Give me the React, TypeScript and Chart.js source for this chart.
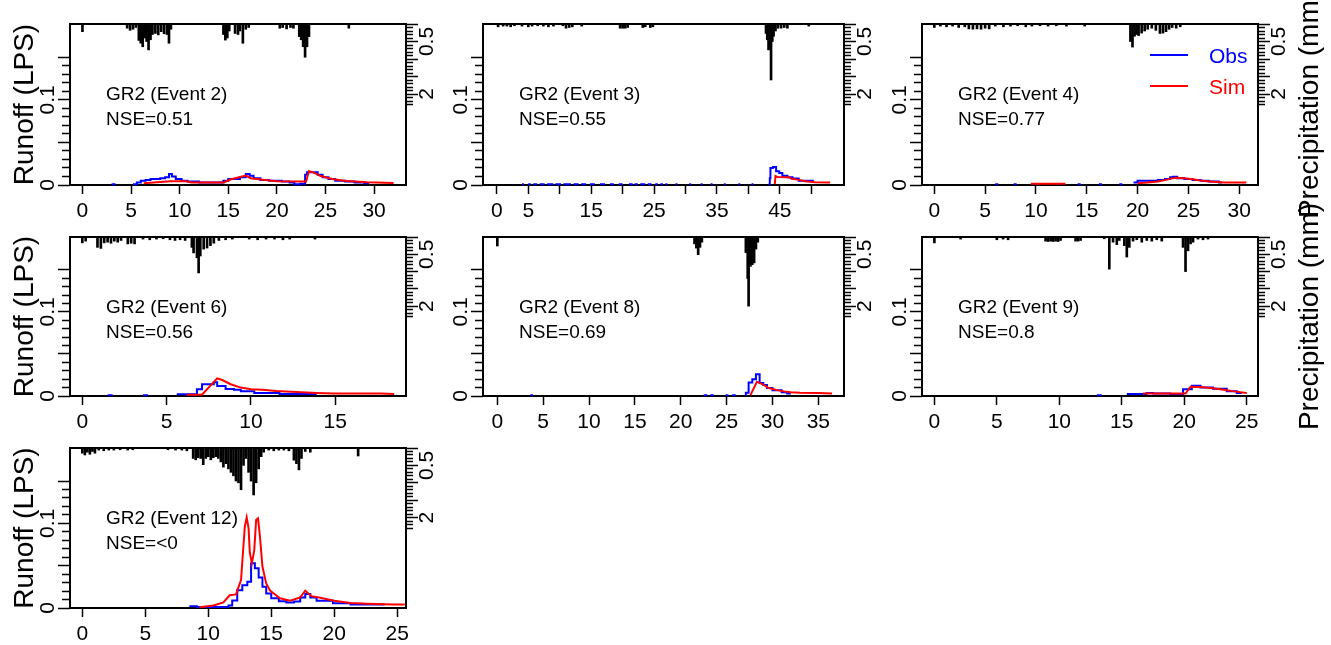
import React, { useEffect, useRef } from 'react';
import { Chart, registerables } from 'chart.js';

Chart.register(...registerables);

const FONT = '"Liberation Sans", Arial, Helvetica, sans-serif';

type Pair = [number, number | null];
type Span = [number, number];

// Level used to draw short observed-runoff traces that sit on the zero line
const OBS_TRACE = 0.0008;

// ---------- Event 2 ----------
const rain2: Pair[] = [
  [0, 0.22], [4.6, 0.12], [4.9, 0.18], [5.2, 0.15], [5.5, 0.1],
  [5.8, 0.47], [6.0, 0.55], [6.2, 0.65], [6.4, 0.4], [6.6, 0.5], [6.8, 0.74], [7.0, 0.45],
  [7.2, 0.3], [7.5, 0.27], [7.8, 0.31], [8.1, 0.22], [8.4, 0.28], [8.7, 0.3], [8.9, 0.55], [9.1, 0.15],
  [14.5, 0.3], [14.7, 0.46], [14.9, 0.4], [15.1, 0.2], [15.7, 0.27], [16.0, 0.3], [16.2, 0.2],
  [16.5, 0.55], [16.8, 0.15], [17.1, 0.1],
  [20.3, 0.12], [20.6, 0.1], [21.0, 0.14], [21.4, 0.1], [21.7, 0.12],
  [22.3, 0.36], [22.5, 0.45], [22.7, 0.65], [22.9, 0.95], [23.1, 0.65], [23.3, 0.36],
  [27.4, 0.12],
];
const obsTrace2: Span[] = [[3.0, 3.4]];
const obs2: Pair[] = [
  [5.2, 0.001], [5.6, 0.003], [6.0, 0.005], [6.5, 0.006], [7.0, 0.007], [7.6, 0.007], [8.0, 0.008],
  [8.5, 0.009], [8.9, 0.013], [9.2, 0.01], [9.6, 0.007], [10.2, 0.005], [10.8, 0.004], [12.0, 0.003],
  [13.5, 0.003], [14.5, 0.005], [15.0, 0.007], [15.6, 0.007], [16.2, 0.009], [16.8, 0.013],
  [17.2, 0.011], [17.6, 0.008], [18.3, 0.006], [19.2, 0.005], [20.5, 0.004], [21.3, 0.003],
  [21.8, 0.001], [22.4, 0.0015], [22.9, 0.012], [23.1, 0.015], [23.8, 0.015], [24.2, 0.012],
  [24.7, 0.009], [25.3, 0.007], [26.0, 0.005], [27.0, 0.004], [28.0, 0.003], [29.0, 0.002], [29.5, 0.002],
];
const sim2: Pair[] = [
  [6.3, 0.002], [9.0, 0.0045], [10.7, 0.0045], [11.2, 0.003], [14.5, 0.003], [15.3, 0.0068],
  [16.8, 0.011], [17.3, 0.008], [19.0, 0.0055], [20.0, 0.0045], [23.0, 0.004], [23.3, 0.0165],
  [23.8, 0.0145], [24.5, 0.0106], [25.8, 0.0067], [27.2, 0.0047], [29.3, 0.0032], [32.0, 0.0024],
];
const xTicks2 = [0, 5, 10, 15, 20, 25, 30];
const xRange2: Span = [-1.28, 33.28];

// ---------- Event 3 ----------
const rain3: Pair[] = [
  [0.2, 0.08], [1.0, 0.06], [1.6, 0.06], [2.2, 0.08], [2.8, 0.05], [4.0, 0.06], [5.0, 0.08],
  [5.6, 0.06], [6.5, 0.05], [7.4, 0.06], [8.2, 0.08], [9.0, 0.06], [10.5, 0.05], [11.0, 0.12],
  [11.5, 0.1], [12.0, 0.08], [13.5, 0.06], [19.6, 0.12], [20.0, 0.12], [20.4, 0.12], [20.8, 0.1],
  [23.2, 0.1], [23.6, 0.08], [24.4, 0.1], [24.8, 0.08],
  [42.8, 0.27], [43.0, 0.45], [43.2, 0.74], [43.4, 0.7], [43.6, 1.6], [43.8, 0.5], [44.0, 0.35],
  [44.3, 0.2], [44.7, 0.12], [45.2, 0.12], [45.7, 0.1], [46.2, 0.12], [49.6, 0.06],
];
const obsTrace3: Span[] = [
  [4.0, 4.3], [5.0, 5.4], [5.8, 6.4], [6.8, 7.6], [8.0, 9.0], [9.3, 10.2], [10.6, 11.8], [12.2, 13.0],
  [13.4, 14.2], [14.8, 15.6], [16.4, 17.2], [18.0, 18.6], [19.4, 20.0], [21.0, 21.6], [21.9, 22.4],
  [22.8, 23.6], [24.0, 24.6], [25.2, 25.6], [26.0, 26.4], [26.8, 27.1], [28.4, 28.7], [30.6, 30.9],
  [32.4, 32.7], [34.0, 34.3], [36.1, 36.4], [38.4, 38.7], [40.5, 40.8],
];
const obs3: Pair[] = [
  [43.2, 0.001], [43.4, 0.008], [43.5, 0.02], [43.9, 0.021], [44.4, 0.016], [44.9, 0.014],
  [45.4, 0.011], [46.2, 0.009], [47.0, 0.0075], [48.0, 0.005], [50.4, 0.005],
];
const sim3: Pair[] = [
  [44.2, 0.001], [44.3, 0.0106], [44.6, 0.0095], [46.5, 0.009], [46.8, 0.0075], [48.0, 0.006],
  [49.0, 0.0045], [50.6, 0.0033], [53.0, 0.003],
];
const xTicks3 = [0, 5, 10, 15, 20, 25, 30, 35, 40, 45, 50];
const xLabels3 = [0, 5, 15, 25, 35, 45];
const xRange3: Span = [-2.2, 55.2];

// ---------- Event 4 ----------
const rain4: Pair[] = [
  [0.0, 0.1], [0.6, 0.06], [1.2, 0.08], [1.8, 0.06], [2.4, 0.1], [3.0, 0.08], [3.4, 0.14], [3.8, 0.15],
  [4.2, 0.14], [4.6, 0.15], [5.0, 0.12], [5.4, 0.14], [6.0, 0.06], [6.8, 0.08], [7.5, 0.06],
  [8.2, 0.05], [9.0, 0.08], [9.6, 0.06], [10.4, 0.05], [11.2, 0.06], [12.0, 0.05], [13.0, 0.06],
  [14.8, 0.06], [19.3, 0.5], [19.5, 0.66], [19.7, 0.35], [19.9, 0.3], [20.1, 0.33], [20.4, 0.26],
  [20.7, 0.2], [21.0, 0.15], [21.4, 0.12], [21.8, 0.18], [22.2, 0.27], [22.5, 0.26], [22.8, 0.22],
  [23.1, 0.15], [23.4, 0.1], [23.8, 0.12], [24.2, 0.08],
];
const obsTrace4: Span[] = [[6.0, 6.3], [7.8, 8.1], [14.1, 14.4], [16.2, 16.5], [18.2, 18.5]];
const obs4: Pair[] = [
  [19.6, 0.003], [20.0, 0.005], [21.0, 0.005], [22.0, 0.006], [22.7, 0.007], [23.2, 0.009],
  [23.5, 0.0098], [23.9, 0.008], [24.6, 0.007], [25.4, 0.006], [26.2, 0.005], [27.0, 0.004],
  [28.0, 0.003], [28.3, 0.003],
];
const sim4: Pair[] = [
  [9.5, 0.0015], [12.9, 0.0015], [12.9, null],
  [20.0, 0.002], [21.0, 0.003], [22.0, 0.004], [22.8, 0.006], [23.4, 0.0078], [23.8, 0.0086],
  [24.5, 0.0078], [25.3, 0.007], [26.0, 0.0055], [26.8, 0.0045], [27.5, 0.0038], [28.5, 0.003],
  [30.7, 0.003],
];
const xTicks4 = [0, 5, 10, 15, 20, 25, 30];
const xRange4: Span = [-1.21, 31.85];

// ---------- Event 6 ----------
const rain6: Pair[] = [
  [0.0, 0.17], [0.2, 0.12], [0.9, 0.3], [1.1, 0.33], [1.3, 0.17], [1.5, 0.15], [1.7, 0.18],
  [1.9, 0.12], [2.1, 0.15], [2.3, 0.1], [2.7, 0.2], [2.9, 0.18], [3.1, 0.2], [3.6, 0.06], [4.0, 0.08],
  [4.4, 0.06], [4.8, 0.05], [5.2, 0.08], [5.5, 0.1], [5.8, 0.08], [6.1, 0.1], [6.5, 0.3],
  [6.6, 0.46], [6.8, 0.6], [6.9, 1.04], [7.0, 0.55], [7.2, 0.35], [7.4, 0.32], [7.6, 0.25],
  [7.8, 0.18], [8.1, 0.1], [8.5, 0.08], [8.9, 0.06], [9.9, 0.06], [10.4, 0.08], [10.9, 0.06],
  [11.4, 0.06], [11.9, 0.08], [12.3, 0.06], [13.8, 0.06],
];
const obsTrace6: Span[] = [[1.5, 1.8], [3.6, 3.9]];
const obs6: Pair[] = [
  [5.6, 0.002], [6.8, 0.008], [7.1, 0.014], [7.8, 0.0163], [8.0, 0.012], [8.5, 0.0083],
  [9.0, 0.0075], [9.4, 0.0056], [10.2, 0.0036], [11.7, 0.0024], [13.9, 0.0024],
];
const sim6: Pair[] = [
  [6.2, 0.0015], [7.1, 0.0015], [8.0, 0.021], [8.3, 0.019], [8.8, 0.014], [9.4, 0.01],
  [10.0, 0.008], [10.7, 0.0075], [11.5, 0.006], [12.7, 0.0048], [13.9, 0.0036], [14.9, 0.003],
  [17.7, 0.003], [18.5, 0.0025],
];
const xTicks6 = [0, 5, 10, 15];
const xRange6: Span = [-0.73, 19.2];

// ---------- Event 8 ----------
const rain8: Pair[] = [
  [0.0, 0.26], [21.5, 0.2], [21.7, 0.32], [21.9, 0.51], [22.1, 0.3], [22.3, 0.15],
  [27.1, 0.45], [27.3, 1.2], [27.4, 2.0], [27.6, 0.85], [27.8, 0.8], [28.0, 0.75], [28.2, 0.35],
  [28.4, 0.15],
];
const obsTrace8: Span[] = [[3.6, 3.9], [22.5, 22.9], [23.2, 23.6], [24.9, 25.2], [25.6, 26.0]];
const obs8: Pair[] = [
  [27.0, 0.0012], [27.1, 0.004], [27.4, 0.016], [27.8, 0.02], [28.2, 0.026], [28.6, 0.0155],
  [29.0, 0.013], [29.4, 0.0095], [30.0, 0.0067], [31.0, 0.0044], [31.6, 0.003], [32.0, 0.003],
];
const sim8: Pair[] = [
  [27.6, 0.001], [28.3, 0.017], [29.0, 0.0135], [29.6, 0.0095], [30.5, 0.007], [31.3, 0.0055],
  [32.0, 0.0045], [33.0, 0.0038], [35.0, 0.0035], [36.5, 0.003],
];
const xTicks8 = [0, 5, 10, 15, 20, 25, 30, 35];
const xRange8: Span = [-1.56, 37.8];

// ---------- Event 9 ----------
const rain9: Pair[] = [
  [0.0, 0.17], [2.1, 0.06], [5.0, 0.08], [5.5, 0.06], [5.9, 0.08], [8.9, 0.12], [9.1, 0.13],
  [9.3, 0.12], [9.5, 0.13], [9.7, 0.12], [9.9, 0.13], [10.1, 0.1], [11.3, 0.12], [11.5, 0.12],
  [11.7, 0.1], [13.6, 0.05], [14.0, 0.93], [14.3, 0.15], [14.6, 0.22], [14.8, 0.1], [15.2, 0.25],
  [15.4, 0.58], [15.6, 0.3], [15.9, 0.12], [16.2, 0.08], [16.6, 0.15], [17.0, 0.1], [17.4, 0.12],
  [17.8, 0.08], [18.2, 0.12], [19.9, 0.3], [20.1, 1.0], [20.3, 0.4], [20.5, 0.2], [20.7, 0.15],
  [21.1, 0.06], [21.5, 0.08], [21.9, 0.06],
];
const obsTrace9: Span[] = [[13.0, 13.4]];
const obs9: Pair[] = [
  [15.4, 0.0024], [17.0, 0.0036], [17.5, 0.003], [18.9, 0.0025], [19.9, 0.008], [20.6, 0.0122],
  [21.3, 0.01], [22.3, 0.0085], [23.4, 0.0056], [24.2, 0.0036], [24.6, 0.0036],
];
const sim9: Pair[] = [
  [16.7, 0.003], [20.1, 0.003], [20.5, 0.011], [21.5, 0.0103], [22.3, 0.0091], [23.3, 0.0071],
  [24.0, 0.0055], [24.8, 0.004], [25.0, 0.0035],
];
const xTicks9 = [0, 5, 10, 15, 20, 25];
const xRange9: Span = [-0.99, 25.9];

// ---------- Event 12 ----------
const rain12: Pair[] = [
  [0.0, 0.15], [0.2, 0.2], [0.4, 0.12], [0.6, 0.18], [0.8, 0.1], [1.0, 0.15], [1.3, 0.06],
  [1.7, 0.08], [2.1, 0.06], [2.5, 0.06], [3.0, 0.05], [3.6, 0.06], [4.0, 0.05], [6.8, 0.05],
  [7.4, 0.06], [7.9, 0.06], [8.3, 0.08], [8.8, 0.3], [9.0, 0.34], [9.2, 0.28], [9.4, 0.3],
  [9.6, 0.48], [9.8, 0.3], [10.0, 0.25], [10.2, 0.34], [10.4, 0.28], [10.6, 0.25], [10.8, 0.3],
  [11.0, 0.4], [11.2, 0.55], [11.4, 0.45], [11.6, 0.6], [11.8, 0.7], [12.0, 0.8], [12.2, 0.95],
  [12.4, 1.0], [12.6, 1.2], [12.8, 0.5], [13.0, 0.3], [13.2, 0.7], [13.4, 0.95], [13.6, 1.35],
  [13.8, 1.0], [14.0, 0.6], [14.2, 0.25], [14.4, 0.12], [14.8, 0.06], [15.2, 0.08], [15.6, 0.06],
  [16.0, 0.06], [16.4, 0.08], [16.8, 0.35], [17.0, 0.45], [17.2, 0.63], [17.4, 0.3], [17.7, 0.1],
  [18.1, 0.12], [21.9, 0.23],
];
const obsTrace12: Span[] = [];
const obs12: Pair[] = [
  [8.5, 0.002], [9.1, 0.0012], [11.6, 0.003], [11.9, 0.009], [12.3, 0.021], [12.7, 0.027],
  [13.1, 0.031], [13.4, 0.053], [13.7, 0.047], [14.0, 0.036], [14.3, 0.025], [14.6, 0.017],
  [15.0, 0.0115], [15.6, 0.008], [16.2, 0.0065], [16.8, 0.0078], [17.3, 0.0125], [17.7, 0.0165],
  [18.1, 0.0125], [18.6, 0.0086], [19.9, 0.0055], [21.3, 0.004], [24.0, 0.004],
];
const sim12: Pair[] = [
  [9.3, 0.001], [10.4, 0.003], [11.2, 0.0065], [11.7, 0.015], [12.2, 0.016], [12.6, 0.033],
  [12.9, 0.096], [13.05, 0.107], [13.2, 0.094], [13.3, 0.065], [13.46, 0.053], [13.65, 0.068],
  [13.8, 0.104], [13.95, 0.106], [14.1, 0.085], [14.3, 0.049], [14.6, 0.029], [14.9, 0.0207],
  [15.7, 0.0115], [16.5, 0.0085], [17.3, 0.0125], [17.7, 0.0205], [18.2, 0.014], [18.9, 0.012],
  [20.0, 0.0085], [21.3, 0.006], [22.6, 0.005], [24.7, 0.004], [25.6, 0.004],
];
const xTicks12 = [0, 5, 10, 15, 20, 25];
const xRange12: Span = [-0.98, 25.7];

// ---------- shared axes ----------
const runoffRange: Span = [0, 0.189];
const runoffTicks = [0, 0.01, 0.02, 0.03, 0.04, 0.05, 0.06, 0.07, 0.08, 0.09, 0.1, 0.11, 0.12, 0.13, 0.14, 0.15];
const runoffMajorTicks = [0, 0.05, 0.1, 0.15];
const runoffTickLabels = [0, 0.1];

const precipRange: Span = [0, 4.6];
const precipTicks = [0, 0.1, 0.2, 0.3, 0.4, 0.5, 0.6, 0.7, 0.8, 0.9, 1, 1.1, 1.2, 1.3, 1.4, 1.5, 1.6, 1.7, 1.8, 1.9, 2, 2.1, 2.2, 2.3];
const precipMajorTicks = [0, 0.5, 1, 1.5, 2];
const precipTickLabels = [0.5, 2];

const modelName = 'GR2';
const seriesNames = ['Obs', 'Sim'];

interface EventData {
  id: number;
  nse: string;
  rain: Pair[];
  obs: Pair[];
  obsTrace: Span[];
  sim: Pair[];
  xRange: Span;
  xTicks: number[];
  xLabels: number[];
}

const events: EventData[] = [
  { id: 2, nse: '0.51', rain: rain2, obs: obs2, obsTrace: obsTrace2, sim: sim2, xRange: xRange2, xTicks: xTicks2, xLabels: xTicks2 },
  { id: 3, nse: '0.55', rain: rain3, obs: obs3, obsTrace: obsTrace3, sim: sim3, xRange: xRange3, xTicks: xTicks3, xLabels: xLabels3 },
  { id: 4, nse: '0.77', rain: rain4, obs: obs4, obsTrace: obsTrace4, sim: sim4, xRange: xRange4, xTicks: xTicks4, xLabels: xTicks4 },
  { id: 6, nse: '0.56', rain: rain6, obs: obs6, obsTrace: obsTrace6, sim: sim6, xRange: xRange6, xTicks: xTicks6, xLabels: xTicks6 },
  { id: 8, nse: '0.69', rain: rain8, obs: obs8, obsTrace: obsTrace8, sim: sim8, xRange: xRange8, xTicks: xTicks8, xLabels: xTicks8 },
  { id: 9, nse: '0.8', rain: rain9, obs: obs9, obsTrace: obsTrace9, sim: sim9, xRange: xRange9, xTicks: xTicks9, xLabels: xTicks9 },
  { id: 12, nse: '<0', rain: rain12, obs: obs12, obsTrace: obsTrace12, sim: sim12, xRange: xRange12, xTicks: xTicks12, xLabels: xTicks12 },
];

// ---------- page layout (plot boxes in page pixels) ----------
interface Box { left: number; top: number; right: number; bottom: number; }
const panelBoxes: Box[] = [
  { left: 70, top: 24, right: 406, bottom: 185 },
  { left: 483, top: 24, right: 844, bottom: 185 },
  { left: 922, top: 24, right: 1258, bottom: 185 },
  { left: 70, top: 237, right: 406, bottom: 396 },
  { left: 483, top: 237, right: 844, bottom: 396 },
  { left: 922, top: 237, right: 1258, bottom: 396 },
  { left: 70, top: 448, right: 406, bottom: 608 },
];
const M_LEFT = 70;
const M_RIGHT = 90;
const M_TOP = 44;
const M_BOTTOM = 48;

const BLUE = '#0000ff';
const RED = '#ff0000';

const near = (list: number[], v: number) => list.some((t) => Math.abs(t - v) < 1e-9);
const toXY = (p: Pair[]) => p.map(([x, y]) => ({ x, y }));

interface PanelFlags { runoffTitle: boolean; precipTitle: boolean; legend: boolean; }

function makeChart(canvas: HTMLCanvasElement, ev: EventData, flags: PanelFlags) {
  const obsPoints: { x: number; y: number | null }[] = [];
  ev.obsTrace.forEach(([a, b]) => {
    obsPoints.push({ x: a, y: OBS_TRACE }, { x: b, y: OBS_TRACE }, { x: b, y: null });
  });
  ev.obs.forEach(([x, y]) => obsPoints.push({ x, y }));

  const decor = {
    id: 'panelDecor',
    beforeDatasetsDraw(chart: any) {
      const { ctx, chartArea: a } = chart;
      ctx.save();
      ctx.strokeStyle = '#000';
      ctx.lineWidth = 2;
      ctx.strokeRect(a.left, a.top, a.right - a.left, a.bottom - a.top);
      ctx.restore();
    },
    afterDraw(chart: any) {
      const { ctx, chartArea: a } = chart;
      ctx.save();
      ctx.fillStyle = '#000';
      ctx.textAlign = 'left';
      ctx.textBaseline = 'middle';
      ctx.font = `19px ${FONT}`;
      ctx.fillText(`${modelName} (Event ${ev.id})`, a.left + 36, a.top + 71);
      ctx.fillText(`NSE=${ev.nse}`, a.left + 36, a.top + 96);

      if (flags.legend) {
        const colors = [BLUE, RED];
        seriesNames.forEach((name, i) => {
          const ly = a.top + 31 + i * 31;
          ctx.strokeStyle = colors[i];
          ctx.lineWidth = 2;
          ctx.beginPath();
          ctx.moveTo(a.left + 228, ly);
          ctx.lineTo(a.left + 266, ly);
          ctx.stroke();
          ctx.fillStyle = colors[i];
          ctx.font = `21px ${FONT}`;
          ctx.fillText(name, a.left + 287, ly + 2);
        });
      }

      if (flags.precipTitle) {
        ctx.fillStyle = '#000';
        ctx.font = `28px ${FONT}`;
        ctx.textAlign = 'center';
        ctx.translate(a.right + 52, (a.top + a.bottom) / 2);
        ctx.rotate(-Math.PI / 2);
        ctx.fillText('Precipitation (mm)', 0, 0);
      }
      ctx.restore();
    },
  };

  return new Chart(canvas, {
    type: 'line',
    data: {
      datasets: [
        {
          type: 'line',
          label: 'Sim',
          data: toXY(ev.sim),
          borderColor: RED,
          borderWidth: 2,
          pointRadius: 0,
          tension: 0,
          fill: false,
          spanGaps: false,
          yAxisID: 'y',
          order: 0,
          clip: false,
        },
        {
          type: 'line',
          label: 'Obs',
          data: obsPoints,
          borderColor: BLUE,
          borderWidth: 2,
          pointRadius: 0,
          stepped: 'before',
          fill: false,
          spanGaps: false,
          yAxisID: 'y',
          order: 1,
          clip: false,
        },
        {
          type: 'bar',
          label: 'Precipitation',
          data: toXY(ev.rain),
          backgroundColor: '#000',
          borderWidth: 0,
          barThickness: 2,
          yAxisID: 'y2',
          order: 2,
          clip: false,
        },
      ] as any,
    },
    options: {
      responsive: false,
      animation: false,
      devicePixelRatio: 1,
      events: [],
      layout: { padding: { top: M_TOP, left: 0, right: 0, bottom: 0 }, autoPadding: false },
      plugins: { legend: { display: false }, tooltip: { enabled: false } },
      scales: {
        x: {
          type: 'linear',
          min: ev.xRange[0],
          max: ev.xRange[1],
          bounds: 'data',
          offset: false,
          afterBuildTicks: (s: any) => { s.ticks = ev.xTicks.map((v) => ({ value: v })); },
          afterFit: (s: any) => { s.height = M_BOTTOM; },
          grid: {
            display: true,
            offset: false,
            drawOnChartArea: false,
            drawTicks: true,
            tickLength: 9,
            tickColor: '#000',
            tickWidth: 1.5,
          },
          border: { display: false },
          ticks: {
            autoSkip: false,
            maxRotation: 0,
            minRotation: 0,
            padding: 5,
            color: '#000',
            font: { family: FONT, size: 21 },
            callback: (v: any) => (near(ev.xLabels, Number(v)) ? String(v) : ''),
          },
        },
        y: {
          type: 'linear',
          position: 'left',
          min: runoffRange[0],
          max: runoffRange[1],
          bounds: 'data',
          afterBuildTicks: (s: any) => { s.ticks = runoffTicks.map((v) => ({ value: v })); },
          afterFit: (s: any) => { s.width = M_LEFT; },
          grid: {
            display: true,
            offset: false,
            drawOnChartArea: false,
            drawTicks: true,
            tickLength: 12,
            tickColor: '#000',
            tickWidth: 1.5,
            tickBorderDash: (c: any) => (near(runoffMajorTicks, c.tick ? c.tick.value : 0) ? [] : [0, 4, 8, 100]),
          },
          border: { display: false },
          ticks: {
            autoSkip: false,
            minRotation: 90,
            maxRotation: 90,
            crossAlign: 'center',
            padding: -5,
            color: '#000',
            font: { family: FONT, size: 21 },
            callback: (v: any) => (near(runoffTickLabels, Number(v)) ? String(v) : ''),
          },
          title: {
            display: flags.runoffTitle,
            text: 'Runoff (LPS)',
            color: '#000',
            font: { family: FONT, size: 28 },
            padding: { top: 8, bottom: 0 },
          },
        },
        y2: {
          type: 'linear',
          position: 'right',
          min: precipRange[0],
          max: precipRange[1],
          reverse: true,
          bounds: 'data',
          afterBuildTicks: (s: any) => { s.ticks = precipTicks.map((v) => ({ value: v })); },
          afterFit: (s: any) => { s.width = M_RIGHT; },
          grid: {
            display: true,
            offset: false,
            drawOnChartArea: false,
            drawTicks: true,
            tickLength: 12,
            tickColor: '#000',
            tickWidth: 1.5,
            tickBorderDash: (c: any) => (near(precipMajorTicks, c.tick ? c.tick.value : 0) ? [] : [7, 100]),
          },
          border: { display: false },
          ticks: {
            autoSkip: false,
            minRotation: 90,
            maxRotation: 90,
            crossAlign: 'center',
            padding: -5,
            color: '#000',
            font: { family: FONT, size: 21 },
            callback: (v: any) => (near(precipTickLabels, Number(v)) ? String(v) : ''),
          },
        },
      },
    } as any,
    plugins: [decor],
  });
}

function Panel({ ev, box, flags }: { ev: EventData; box: Box; flags: PanelFlags }) {
  const ref = useRef<HTMLCanvasElement>(null);
  const width = box.right - box.left + M_LEFT + M_RIGHT;
  const height = box.bottom - box.top + M_TOP + M_BOTTOM;

  useEffect(() => {
    if (!ref.current) return;
    const chart = makeChart(ref.current, ev, flags);
    return () => chart.destroy();
  }, [ev, flags]);

  return (
    <canvas
      ref={ref}
      width={width}
      height={height}
      style={{ position: 'absolute', left: box.left - M_LEFT, top: box.top - M_TOP, width, height }}
    />
  );
}

const panelFlags: PanelFlags[] = [
  { runoffTitle: true, precipTitle: false, legend: false },
  { runoffTitle: false, precipTitle: false, legend: false },
  { runoffTitle: false, precipTitle: true, legend: true },
  { runoffTitle: true, precipTitle: false, legend: false },
  { runoffTitle: false, precipTitle: false, legend: false },
  { runoffTitle: false, precipTitle: true, legend: false },
  { runoffTitle: true, precipTitle: false, legend: false },
];

export default function App() {
  return (
    <div
      style={{
        position: 'fixed',
        left: 0,
        top: 0,
        width: 1331,
        height: 645,
        background: '#ffffff',
        overflow: 'hidden',
      }}
    >
      {events.map((ev, i) => (
        <Panel key={ev.id} ev={ev} box={panelBoxes[i]} flags={panelFlags[i]} />
      ))}
    </div>
  );
}
